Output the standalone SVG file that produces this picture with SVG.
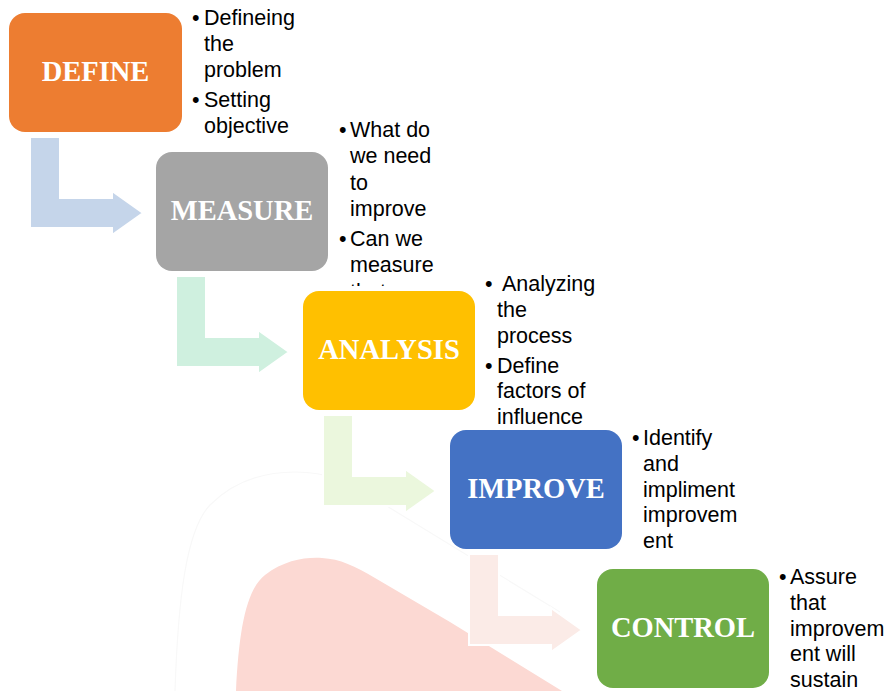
<svg xmlns="http://www.w3.org/2000/svg" width="893" height="691" viewBox="0 0 893 691">
  <style>
    .box-label { font-family: "Liberation Serif", "Times New Roman", serif; font-weight: bold; font-size: 28.5px; fill: #FFFFFF; text-anchor: middle; }
    .note { font-family: "Liberation Sans", Arial, sans-serif; font-size: 21.5px; fill: #000000; }
    .arrow { stroke: #FFFFFF; stroke-width: 2; }
  </style>
  <defs>
    <path id="bent" d="M0,0 H30 V61 H82 V54 L113,76 L82,98 V91 H0 Z"/>
    <clipPath id="clipThat">
      <rect x="330" y="270" width="120" height="16"/>
    </clipPath>
  </defs>
  <rect x="0" y="0" width="893" height="691" fill="#FFFFFF"/>

  <!-- background watermark -->
  <g id="watermark">
    <path d="M175,691 C178,600 186,530 210,505 C235,480 265,472 295,472 C325,472 345,478 390,508 L560,612" fill="none" stroke="#F8F8F8" stroke-width="1.2"/>
    <path d="M236,691 C239,630 246,590 265,575 C285,560 305,557 322,558 C340,559 355,566 375,578 L450,622 L562,691 Z" fill="#FCD9D3"/>
  </g>

  <!-- connectors -->
  <g id="connectors">
    <use href="#bent" class="arrow" x="30" y="137" fill="#C5D5EA"/>
    <use href="#bent" class="arrow" x="176" y="276" fill="#CFF0DF"/>
    <use href="#bent" class="arrow" x="323" y="415" fill="#EBF7DD"/>
    <use href="#bent" class="arrow" x="469" y="554" fill="#FBEBE7"/>
  </g>

  <g id="define">
    <rect x="9" y="13" width="173" height="119" rx="16" fill="#ED7D31"/>
    <text class="box-label" x="95.5" y="81">DEFINE</text>
    <text class="note">
      <tspan x="192" y="25">•</tspan><tspan x="204" y="25">Defineing</tspan>
      <tspan x="204" y="51">the</tspan>
      <tspan x="204" y="77">problem</tspan>
      <tspan x="192" y="107">•</tspan><tspan x="204" y="107">Setting</tspan>
      <tspan x="204" y="133">objective</tspan>
    </text>
  </g>

  <g id="measure">
    <rect x="156" y="152" width="172" height="119" rx="16" fill="#A5A5A5"/>
    <text class="box-label" x="242" y="220">MEASURE</text>
    <text class="note">
      <tspan x="339" y="137">•</tspan><tspan x="350" y="137">What do</tspan>
      <tspan x="350" y="163.3">we need</tspan>
      <tspan x="350" y="189.6">to</tspan>
      <tspan x="350" y="215.9">improve</tspan>
      <tspan x="339" y="246">•</tspan><tspan x="350" y="246">Can we</tspan>
      <tspan x="350" y="272.3">measure</tspan>
    </text>
    <text class="note" x="350" y="299" clip-path="url(#clipThat)">that</text>
  </g>

  <g id="analysis">
    <rect x="303" y="291" width="172" height="119" rx="16" fill="#FFC000"/>
    <text class="box-label" x="389" y="359">ANALYSIS</text>
    <text class="note">
      <tspan x="485" y="291">•</tspan><tspan x="502" y="291">Analyzing</tspan>
      <tspan x="497" y="317">the</tspan>
      <tspan x="497" y="343">process</tspan>
      <tspan x="485" y="372.5">•</tspan><tspan x="497" y="372.5">Define</tspan>
      <tspan x="497" y="398">factors of</tspan>
      <tspan x="497" y="424">influence</tspan>
    </text>
  </g>

  <g id="improve">
    <rect x="450" y="430" width="172" height="119" rx="16" fill="#4472C4"/>
    <text class="box-label" x="536" y="498">IMPROVE</text>
    <text class="note">
      <tspan x="632" y="445">•</tspan><tspan x="643" y="445">Identify</tspan>
      <tspan x="643" y="470.8">and</tspan>
      <tspan x="643" y="496.6">impliment</tspan>
      <tspan x="643" y="522.4">improvem</tspan>
      <tspan x="643" y="548.2">ent</tspan>
    </text>
  </g>

  <g id="control">
    <rect x="597" y="569" width="172" height="119" rx="16" fill="#70AD47"/>
    <text class="box-label" x="683" y="637">CONTROL</text>
    <text class="note">
      <tspan x="779" y="584">•</tspan><tspan x="790" y="584">Assure</tspan>
      <tspan x="790" y="609.8">that</tspan>
      <tspan x="790" y="635.6">improvem</tspan>
      <tspan x="790" y="661.4">ent will</tspan>
      <tspan x="790" y="687.2">sustain</tspan>
    </text>
  </g>
</svg>
